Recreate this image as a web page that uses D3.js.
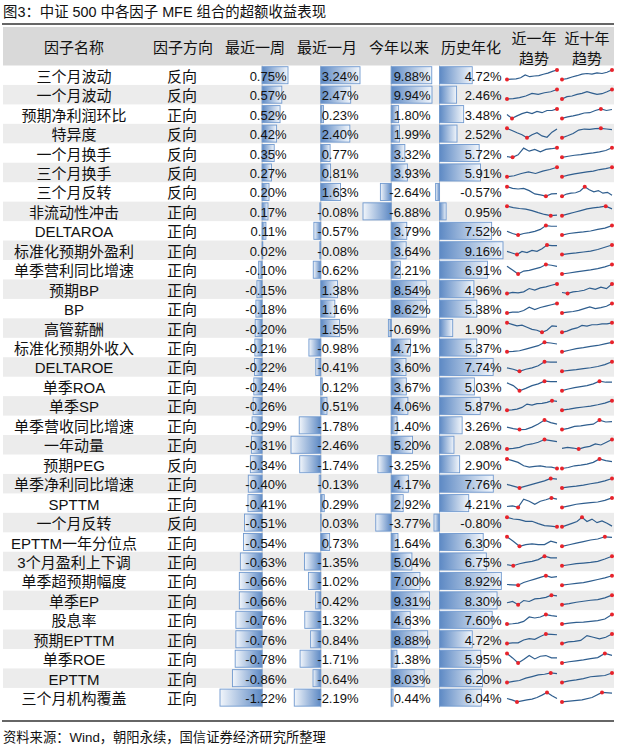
<!DOCTYPE html>
<html>
<head>
<meta charset="utf-8">
<script src="https://cdn.jsdelivr.net/npm/d3@7"></script>
<style>
    body { margin: 0; background: #fff; }
    text { font-family: "Liberation Sans", Arial, "Noto Sans CJK SC", sans-serif; fill: #111; }
</style>
</head>
<body>
<div id="chart"></div>
<script>
    const title = "图3：中证 500 中各因子 MFE 组合的超额收益表现";
    const source = "资料来源：Wind，朝阳永续，国信证券经济研究所整理";
    const headers = ["因子名称", "因子方向", "最近一周", "最近一月", "今年以来", "历史年化", "近一年|趋势", "近十年|趋势"];

    const factors = ["三个月波动","一个月波动","预期净利润环比","特异度","一个月换手","三个月换手","三个月反转","非流动性冲击",
        "DELTAROA","标准化预期外盈利","单季营利同比增速","预期BP","BP","高管薪酬","标准化预期外收入","DELTAROE",
        "单季ROA","单季SP","单季营收同比增速","一年动量","预期PEG","单季净利同比增速","SPTTM","一个月反转",
        "EPTTM一年分位点","3个月盈利上下调","单季超预期幅度","单季EP","股息率","预期EPTTM","单季ROE","EPTTM","三个月机构覆盖"];
    const directions = ["反向","反向","正向","反向","反向","反向","反向","正向","正向","正向","正向","正向","正向","正向","正向","正向",
        "正向","正向","正向","正向","反向","正向","正向","反向","正向","正向","正向","正向","正向","正向","正向","正向","正向"];

    const week = [0.75,0.57,0.52,0.42,0.35,0.27,0.20,0.17,0.11,0.02,-0.10,-0.15,-0.18,-0.20,-0.21,-0.22,-0.24,-0.26,-0.29,-0.31,
        -0.34,-0.40,-0.41,-0.51,-0.54,-0.63,-0.66,-0.66,-0.76,-0.76,-0.78,-0.86,-1.22];
    const month = [3.24,2.47,0.23,2.40,0.77,0.81,1.63,-0.08,-0.57,-0.08,-0.62,1.38,1.16,1.55,-0.98,-0.41,0.12,0.51,-1.78,-2.46,
        -1.74,-0.13,0.29,0.03,0.73,-1.35,-1.02,-0.42,-1.32,-0.84,-1.71,-0.64,-2.19];
    const ytd = [9.88,9.94,1.80,1.99,3.32,3.93,-2.64,-6.88,3.79,3.64,2.21,8.54,8.62,-0.69,4.71,3.60,3.67,4.06,1.40,5.20,
        -3.25,4.17,2.92,-3.77,1.64,5.04,7.00,9.31,4.63,8.88,1.38,8.03,0.44];
    const annual = [4.72,2.46,3.48,2.52,5.72,5.91,-0.57,0.95,7.52,9.16,6.91,4.96,5.38,1.90,5.37,7.74,5.03,5.87,3.26,2.08,
        2.90,7.76,4.21,-0.80,6.30,6.75,8.92,8.30,7.60,4.72,5.95,6.20,6.04];

    // sparkline shapes (arbitrary units)
    const trend1y = [
        [0,1,2,5,13,8,10,11,15,18,23,27], [0,1,4,9,17,14,19,22,29], [12,0,8,15,20,15,22,18,25,25,30],
        [32,25,18,12,2,12,18,8,4,20,30], [4,2,10,32,22,28,20,28,30,33], [1,4,11,16,11,18,23,30],
        [32,27,25,27,20,10,7,3,10,11], [35,30,27,25,20,13,7,3,5], [14,7,2,7,10,14,20,32,30,30],
        [12,7,2,12,8,15,12,20,32,30,30], [23,13,2,10,12,16,20,28,26,23], [2,5,4,7,17,12,19,22,27,31],
        [2,4,4,9,19,12,18,22,26,30], [34,29,24,26,19,12,9,2,9,24,22], [2,3,5,10,15,20,30,28,25],
        [12,8,2,8,12,18,30,29,29], [25,17,2,9,17,22,30,29,29], [2,3,5,10,20,17,21,22,25,30,28],
        [10,5,2,3,10,20,33,25,20], [2,4,7,14,17,22,30,27,24], [30,25,20,10,6,8,10,7,6,2],
        [12,7,2,7,12,17,22,29,27], [5,7,2,29,22,12,22,27,33,29], [32,27,25,20,20,13,7,5,3],
        [30,17,2,7,9,7,7,17,12], [5,2,8,12,15,20,30,25,25], [4,3,2,10,15,20,25,30,25,27],
        [8,12,2,15,12,20,22,25,32,30], [2,3,5,10,23,20,23,30,27,25], [2,4,4,12,16,14,22,29,28,27],
        [30,17,2,12,24,14,22,24,17,17], [2,5,8,15,20,25,27,31,29], [12,8,2,5,8,10,15,22,30,20,12]
    ];
    const trend10y = [
        [0,3,8,12,17,19,17,21,19,23,30], [0,7,9,14,17,22,18,14,16,22,29], [0,5,8,12,17,18,25,30,25,28],
        [2,8,15,25,28,27,29,30,28,26], [4,7,10,12,15,17,20,24,32], [1,6,10,13,16,18,23,26,30],
        [10,15,17,18,22,32,25,20,23,17,19,12], [5,10,15,20,25,28,30,33,25], [2,7,10,12,15,20,24,32],
        [2,5,7,10,13,18,25,32], [2,5,8,11,14,18,23,30], [5,2,7,9,12,19,15,22,17,32],
        [2,4,6,9,14,19,14,17,21,29], [2,6,12,16,24,22,26,26,29,29,32], [2,7,12,15,19,22,27,32],
        [2,5,7,10,13,17,23,32], [2,7,11,14,17,22,30,27,27], [2,5,9,12,15,19,24,32],
        [3,7,13,15,18,20,33,27,28], [4,7,5,2,7,10,17,14,22,30], [2,5,10,12,15,20,30,25,22],
        [2,5,7,10,14,17,22,29], [2,7,12,15,17,19,24,32], [5,10,15,20,32,20,27,17,22,15,7],
        [2,7,12,17,22,25,32,30], [2,5,8,10,12,15,22,30], [2,5,8,10,15,20,25,32],
        [2,5,9,12,15,17,22,30], [2,5,7,8,10,12,17,30], [2,7,9,12,27,22,17,22,32],
        [2,6,9,12,16,19,32,26], [2,7,10,14,20,22,24,32], [2,5,8,15,30,28]
    ];

    const W = 626, H = 756;
    const left = 3, right = 614;
    const headTop = 27, bodyTop = 65.5, rowH = 19.45;
    const n = factors.length;
    const bodyBottom = bodyTop + n * rowH;

    const svg = d3.select("#chart").append("svg")
        .attr("width", W)
        .attr("height", H);

    const defs = svg.append("defs");
    const grads = [["gpos", 0, 1], ["gneg", 1, 0]];
    grads.forEach(([id, x1, x2]) => {
        const g = defs.append("linearGradient").attr("id", id)
            .attr("x1", x1).attr("x2", x2).attr("y1", 0).attr("y2", 0);
        g.append("stop").attr("offset", 0).attr("stop-color", "#5d89c4");
        g.append("stop").attr("offset", 1).attr("stop-color", "#f2f6fb");
    });

    // title
    svg.append("text")
        .attr("x", 3).attr("y", 17)
        .style("font-size", "14.4px")
        .text(title);
    svg.append("line")
        .attr("x1", 2).attr("x2", right).attr("y1", 24).attr("y2", 24)
        .attr("stroke", "#333").attr("stroke-width", 1.3);

    // header
    svg.append("rect")
        .attr("x", left).attr("y", headTop)
        .attr("width", right - left).attr("height", bodyTop - headTop)
        .attr("fill", "#d9d9d9");

    const headX = [74, 183, 255, 327, 399, 471, 534, 587];
    headers.forEach((h, i) => {
        const parts = h.split("|");
        parts.forEach((p, j) => {
            svg.append("text")
                .attr("x", headX[i])
                .attr("y", parts.length === 1 ? 47 : 38 + j * 20)
                .attr("text-anchor", "middle")
                .attr("dominant-baseline", "central")
                .style("font-size", "15px")
                .text(p);
        });
    });

    const y = d3.scaleBand()
        .domain(d3.range(n))
        .range([bodyTop, bodyBottom]);

    // row stripes
    svg.selectAll(".stripe")
        .data(d3.range(n).filter(i => i % 2 === 1))
        .enter()
        .append("rect")
            .attr("class", "stripe")
            .attr("x", left).attr("y", i => y(i))
            .attr("width", right - left).attr("height", y.bandwidth())
            .attr("fill", "#ececec");

    // names + direction
    svg.selectAll(".name")
        .data(factors)
        .enter()
        .append("text")
            .attr("x", 74)
            .attr("y", (d, i) => y(i) + rowH / 2 + 1)
            .attr("text-anchor", "middle")
            .attr("dominant-baseline", "central")
            .style("font-size", "15px")
            .text(d => d);

    svg.selectAll(".dir")
        .data(directions)
        .enter()
        .append("text")
            .attr("x", 182)
            .attr("y", (d, i) => y(i) + rowH / 2 + 1)
            .attr("text-anchor", "middle")
            .attr("dominant-baseline", "central")
            .style("font-size", "15px")
            .text(d => d);

    // data bar columns
    const barCols = [
        { vals: week, range: [220, 288] },
        { vals: month, range: [291, 360] },
        { vals: ytd, range: [363, 432] },
        { vals: annual, range: [434, 503] }
    ];

    barCols.forEach(col => {
        const x = d3.scaleLinear()
            .domain(d3.extent(col.vals))
            .range(col.range);
        const g = svg.append("g");

        g.append("line")
            .attr("x1", x(0)).attr("x2", x(0))
            .attr("y1", bodyTop).attr("y2", bodyBottom)
            .attr("stroke", "#c4c4c4").attr("stroke-width", 1);

        g.selectAll("rect")
            .data(col.vals)
            .enter()
            .append("rect")
                .attr("x", d => Math.min(x(0), x(d)))
                .attr("y", (d, i) => y(i) + 1.2)
                .attr("width", d => Math.abs(x(d) - x(0)))
                .attr("height", rowH - 2.4)
                .attr("fill", d => d >= 0 ? "url(#gpos)" : "url(#gneg)")
                .attr("stroke", "#7099cf")
                .attr("stroke-width", 0.9);

        g.selectAll("text")
            .data(col.vals)
            .enter()
            .append("text")
                .attr("x", col.range[1] - 1.5)
                .attr("y", (d, i) => y(i) + rowH / 2 + 1)
                .attr("text-anchor", "end")
                .attr("dominant-baseline", "central")
                .style("font-size", "13px")
                .text(d => d.toFixed(2) + "%");
    });

    // sparklines
    const sparkCols = [
        { series: trend1y, range: [507, 557] },
        { series: trend10y, range: [562, 612] }
    ];

    sparkCols.forEach(col => {
        col.series.forEach((s, i) => {
            const top = y(i);
            const sx = d3.scaleLinear().domain([0, s.length - 1]).range(col.range);
            const sy = d3.scaleLinear().domain(d3.extent(s)).range([top + 14, top + 4.5]);
            const line = d3.line()
                .x((d, k) => sx(k))
                .y(d => sy(d));

            svg.append("path")
                .datum(s)
                .attr("fill", "none")
                .attr("stroke", "#2f5e8e")
                .attr("stroke-width", 1.2)
                .attr("d", line);

            [d3.minIndex(s), d3.maxIndex(s)].forEach(k => {
                svg.append("circle")
                    .attr("cx", sx(k))
                    .attr("cy", sy(s[k]))
                    .attr("r", 2)
                    .attr("fill", "#e8232b");
            });
        });
    });

    // bottom rule + source
    svg.append("line")
        .attr("x1", 2).attr("x2", right).attr("y1", 721).attr("y2", 721)
        .attr("stroke", "#333").attr("stroke-width", 1.3);
    svg.append("text")
        .attr("x", 3).attr("y", 742)
        .style("font-size", "13.3px")
        .text(source);
</script>
</body>
</html>
